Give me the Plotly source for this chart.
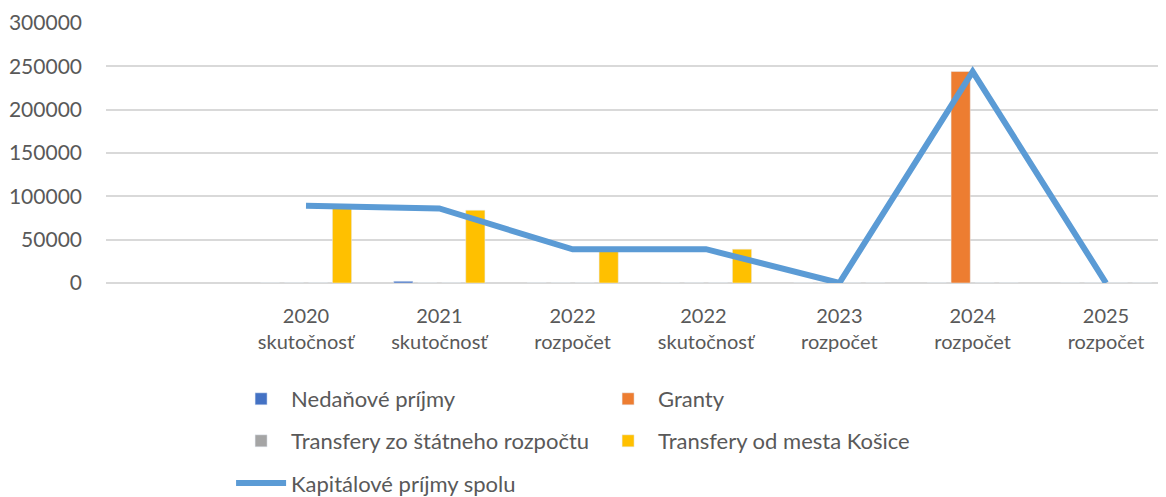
import plotly.graph_objects as go

categories = [" ", "2020<br>skutočnosť", "2021<br>skutočnosť", "2022<br>rozpočet",
              "2022 <br>skutočnosť", "2023<br>rozpočet", "2024<br>rozpočet", "2025<br>rozpočet"]
nedanove = [None, 0, 2000, 0, 0, 0, 0, 0]
granty = [None, 0, 0, 0, 0, 0, 244000, 0]
transfery_stat = [None, 0, 0, 0, 0, 0, 0, 0]
transfery_kosice = [None, 89000, 84000, 38500, 39000, 0, 0, 0]
kapitalove_spolu = [None, 89000, 86000, 38800, 39000, 0, 244000, 0]

font_family = "Lato, 'Liberation Sans', sans-serif"
txt = "#595959"

fig = go.Figure()
fig.add_trace(go.Bar(x=categories, y=nedanove, name="Nedaňové príjmy", marker_color="#4472c4", legend="legend"))
fig.add_trace(go.Bar(x=categories, y=granty, name="Granty", marker_color="#ed7d31", legend="legend"))
fig.add_trace(go.Bar(x=categories, y=transfery_stat, name="Transfery zo štátneho rozpočtu", marker_color="#a5a5a5", legend="legend2"))
fig.add_trace(go.Bar(x=categories, y=transfery_kosice, name="Transfery od mesta Košice", marker_color="#ffc000", legend="legend2"))
fig.add_trace(go.Scatter(x=categories, y=kapitalove_spolu, name="Kapitálové príjmy spolu", mode="lines",
                         line=dict(color="#5b9bd5", width=6), connectgaps=False, legend="legend3"))

leg_common = dict(orientation="h", x=0.118, xanchor="left", yanchor="middle", yref="container",
                  entrywidth=302, entrywidthmode="pixels", font=dict(size=22, color=txt),
                  traceorder="normal", itemwidth=50, bgcolor="rgba(0,0,0,0)")

fig.update_layout(
    width=1158, height=489,
    margin=dict(l=98, r=0, t=15, b=214, autoexpand=False),
    paper_bgcolor="white", plot_bgcolor="white",
    font=dict(family=font_family, size=20, color=txt),
    barmode="group", bargap=0.28, bargroupgap=0.2,
    showlegend=True,
    legend=dict(leg_common, y=0.2004),
    legend2=dict(leg_common, y=0.1145),
    legend3=dict(leg_common, y=0.028),
)
fig.update_xaxes(type="category", categoryorder="array", categoryarray=categories,
                 range=[-0.5, 7.45], showgrid=False, showline=False, ticks="",
                 tickfont=dict(size=20, color=txt), ticklabelstandoff=19)
fig.update_yaxes(range=[0, 300000], dtick=50000, showgrid=True, gridcolor="#d9d9d9", gridwidth=1.5,
                 zeroline=True, zerolinecolor="#d9d9d9", zerolinewidth=1.5,
                 showline=False, ticks="", tickformat="d",
                 tickfont=dict(size=21, color=txt), ticklabelstandoff=23)

fig.write_html("out.html")
